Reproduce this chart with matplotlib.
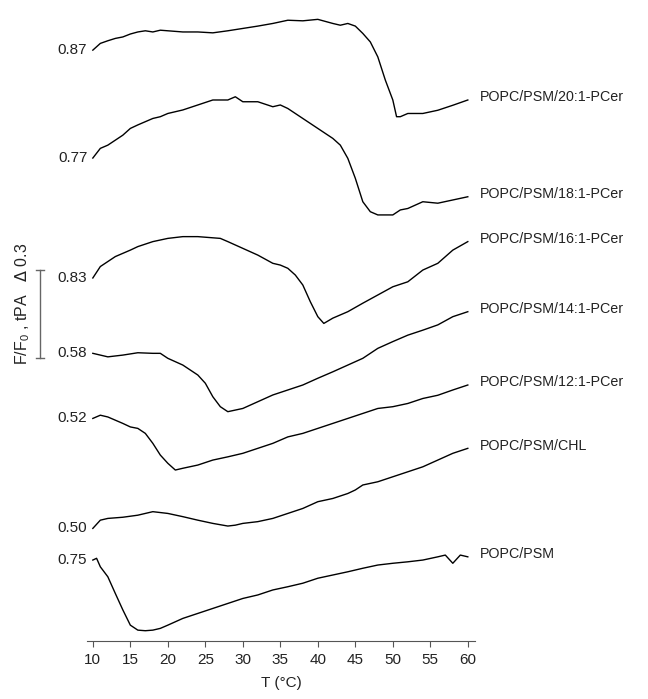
"""
    fluorescence / tPA traces vs temperature, stacked
"""

import matplotlib
matplotlib.use('Agg')
import matplotlib.pyplot as plt

plt.rcParams['font.family'] = ['Liberation Sans', 'DejaVu Sans']

# names of the samples, top to bottom
names = ['POPC/PSM/20:1-PCer', 'POPC/PSM/18:1-PCer', 'POPC/PSM/16:1-PCer',
         'POPC/PSM/14:1-PCer', 'POPC/PSM/12:1-PCer', 'POPC/PSM/CHL', 'POPC/PSM']

# start values printed on the left
start_labels = ['0.87', '0.77', '0.83', '0.58', '0.52', '0.50', '0.75']

# traces (T in degC, value in F/F0 units)
t_20 = [10, 11, 12, 13, 14, 15, 16, 17, 18, 19, 20, 22, 24, 26, 28, 30, 32, 34, 36, 38,
        40, 42, 43, 44, 45, 46, 47, 48, 49, 50, 50.5, 51, 52, 54, 56, 58, 60]
v_20 = [0.870, 0.893, 0.902, 0.910, 0.915, 0.925, 0.932, 0.936, 0.932, 0.938, 0.936,
        0.932, 0.932, 0.929, 0.936, 0.944, 0.952, 0.961, 0.972, 0.970, 0.975, 0.961,
        0.955, 0.961, 0.952, 0.927, 0.898, 0.847, 0.768, 0.700, 0.643, 0.643, 0.654,
        0.654, 0.665, 0.682, 0.700]

t_18 = [10, 11, 12, 13, 14, 15, 16, 17, 18, 19, 20, 22, 24, 26, 28, 29, 30, 32, 34, 35,
        36, 38, 40, 42, 43, 44, 45, 46, 47, 48, 50, 51, 52, 54, 56, 58, 60]
v_18 = [0.770, 0.803, 0.814, 0.831, 0.848, 0.871, 0.883, 0.894, 0.905, 0.911, 0.922,
        0.934, 0.951, 0.968, 0.968, 0.979, 0.962, 0.962, 0.945, 0.951, 0.939, 0.905,
        0.871, 0.837, 0.814, 0.769, 0.701, 0.621, 0.587, 0.576, 0.576, 0.593, 0.598,
        0.621, 0.616, 0.627, 0.638]

t_16 = [10, 11, 12, 13, 14, 15, 16, 18, 20, 22, 24, 26, 27, 28, 30, 32, 34, 35, 36, 37,
        38, 39, 40, 40.8, 42, 44, 46, 48, 50, 52, 54, 56, 58, 60]
v_16 = [0.830, 0.869, 0.886, 0.903, 0.914, 0.925, 0.937, 0.954, 0.965, 0.971, 0.971,
        0.967, 0.965, 0.954, 0.931, 0.908, 0.880, 0.874, 0.863, 0.840, 0.806, 0.749,
        0.698, 0.675, 0.693, 0.715, 0.744, 0.772, 0.800, 0.817, 0.857, 0.880, 0.925,
        0.954]

t_14 = [10, 12, 14, 16, 18, 19, 20, 22, 24, 25, 26, 27, 28, 30, 32, 34, 36, 38, 40, 42,
        44, 46, 48, 50, 52, 54, 56, 58, 60]
v_14 = [0.580, 0.568, 0.574, 0.582, 0.580, 0.580, 0.563, 0.540, 0.506, 0.478, 0.432,
        0.398, 0.381, 0.392, 0.415, 0.438, 0.455, 0.472, 0.495, 0.517, 0.540, 0.563,
        0.597, 0.620, 0.642, 0.659, 0.677, 0.705, 0.722]

t_12 = [10, 11, 12, 13, 14, 15, 16, 17, 18, 19, 20, 21, 22, 24, 26, 28, 30, 32, 34, 36,
        38, 40, 42, 44, 46, 48, 50, 52, 54, 56, 58, 60]
v_12 = [0.520, 0.531, 0.525, 0.514, 0.503, 0.491, 0.486, 0.469, 0.435, 0.395, 0.367,
        0.344, 0.350, 0.361, 0.378, 0.389, 0.401, 0.418, 0.435, 0.457, 0.469, 0.486,
        0.503, 0.520, 0.537, 0.554, 0.560, 0.571, 0.588, 0.599, 0.617, 0.634]

t_chl = [10, 11, 12, 14, 16, 18, 20, 22, 24, 26, 28, 29, 30, 32, 34, 36, 38, 40, 42, 44,
         45, 46, 48, 50, 52, 54, 56, 58, 60]
v_chl = [0.500, 0.528, 0.534, 0.538, 0.545, 0.557, 0.551, 0.540, 0.528, 0.517, 0.508,
         0.511, 0.517, 0.523, 0.534, 0.551, 0.568, 0.591, 0.602, 0.619, 0.631, 0.648,
         0.659, 0.676, 0.693, 0.710, 0.733, 0.756, 0.773]

t_psm = [10, 10.5, 11, 12, 13, 14, 15, 16, 17, 18, 19, 20, 22, 24, 26, 28, 30, 32, 34, 36,
         38, 40, 42, 44, 46, 48, 50, 52, 54, 56, 57, 58, 59, 60]
v_psm = [0.750, 0.756, 0.727, 0.693, 0.636, 0.580, 0.528, 0.511, 0.509, 0.511, 0.517,
         0.528, 0.551, 0.568, 0.585, 0.602, 0.619, 0.631, 0.648, 0.659, 0.671, 0.688,
         0.699, 0.710, 0.722, 0.733, 0.739, 0.744, 0.750, 0.761, 0.767, 0.739, 0.767,
         0.761]

temps = [t_20, t_18, t_16, t_14, t_12, t_chl, t_psm]
values = [v_20, v_18, v_16, v_14, v_12, v_chl, v_psm]

# vertical shift of each trace so they stack
offsets = [1.145, 0.877, 0.408, 0.401, 0.239, -0.116, -0.474]

fig = plt.figure(figsize=(6.48, 6.99), dpi=100)
ax = fig.add_axes([0.134, 0.083, 0.5995, 0.917])

txt = '#222222'
for t, v, off, name, lab in zip(temps, values, offsets, names, start_labels):
    y = [val + off for val in v]
    ax.plot(t, y, color='black', lw=1.0)
    ax.annotate(lab, (t[0], y[0]), xytext=(-4, 0), textcoords='offset points',
                ha='right', va='center', fontsize=11, color=txt, annotation_clip=False)
    ax.annotate(name, (t[-1], y[-1]), xytext=(9, 2), textcoords='offset points',
                ha='left', va='center', fontsize=10.3, color=txt, annotation_clip=False)

# scale bar (0.3 units)
bar_x, bar_lo = 2.93, 0.965
ax.plot([bar_x, bar_x], [bar_lo, bar_lo + 0.3], color='#666666', lw=1.0, clip_on=False)
for yy in (bar_lo, bar_lo + 0.3):
    ax.plot([bar_x - 0.55, bar_x + 0.55], [yy, yy], color='#666666', lw=1.0, clip_on=False)
ax.text(0.7, 1.15, r'F/F$_{\mathregular{0}}$ , tPA   $\Delta$ 0.3', rotation=90,
        ha='center', va='center', fontsize=11.5, color=txt)

ax.set_xlim(9.2, 61.0)
ax.set_ylim(0, 2.186)
ax.set_xticks(range(10, 61, 5))
ax.set_yticks([])
for side in ['left', 'top', 'right']:
    ax.spines[side].set_visible(False)
ax.spines['bottom'].set_color('#555555')
ax.tick_params(axis='x', direction='out', length=4, color='#555555',
               labelsize=11, labelcolor=txt, pad=5)
ax.set_xlabel('T (°C)', fontsize=11, color=txt, labelpad=6)

plt.savefig('out.png', dpi=100)
plt.close()
